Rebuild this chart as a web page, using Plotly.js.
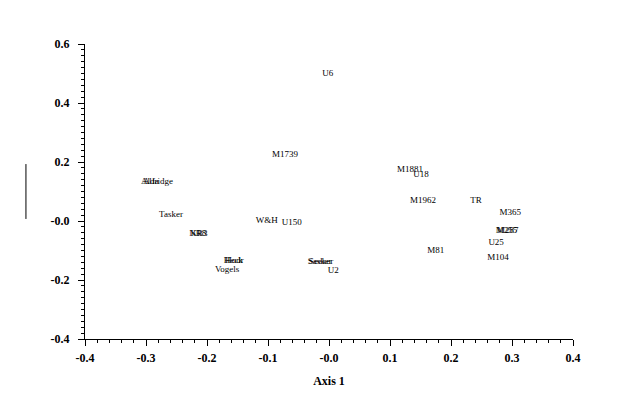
<!DOCTYPE html>
<html>
<head>
<meta charset="utf-8">
<script src="https://cdn.plot.ly/plotly-3.0.1.min.js"></script>
<style>html,body{margin:0;padding:0;background:#fff}#chart{width:624px;height:413px}</style>
</head>
<body>
<div id="chart"></div>
<script>
// Site labels and their ordination scores (Axis 1, Axis 2)
const labels = ["U6","M1739","Aldridge","Alfa","Tasker","NR8","KR3","Heck","Hodr","Vogels","W&H","U150","Sasker","Seeker","U2","M1881","U18","M1962","TR","M365","M255","M287","U25","M81","M104"];
const axis1 = [-0.002,-0.072,-0.282,-0.292,-0.259,-0.215,-0.213,-0.157,-0.155,-0.167,-0.102,-0.061,-0.015,-0.013,0.007,0.133,0.151,0.154,0.241,0.297,0.291,0.293,0.274,0.175,0.277];
const axis2 = [0.498,0.224,0.133,0.133,0.020,-0.044,-0.044,-0.136,-0.136,-0.166,0.000,-0.007,-0.139,-0.139,-0.169,0.173,0.156,0.068,0.068,0.027,-0.034,-0.034,-0.075,-0.102,-0.125];

const xTickVals = [-0.4,-0.3,-0.2,-0.1,0,0.1,0.2,0.3,0.4];
const xTickText = ["-0.4","-0.3","-0.2","-0.1","-0.0","0.1","0.2","0.3","0.4"];
const yTickVals = [-0.4,-0.2,0,0.2,0.4,0.6];
const yTickText = ["-0.4","-0.2","-0.0","0.2","0.4","0.6"];

const serif = "Liberation Serif, Times New Roman, serif";
const tickFont = {family: serif, size: 12, color: "#000", weight: "bold"};

const trace = {
  type: "scatter",
  mode: "text",
  x: axis1,
  y: axis2,
  text: labels,
  textposition: "middle center",
  textfont: {family: serif, size: 9, color: "#000"},
  hoverinfo: "text",
  showlegend: false
};

const layout = {
  width: 624,
  height: 413,
  margin: {l: 85, r: 51, t: 44, b: 74},
  paper_bgcolor: "#fff",
  plot_bgcolor: "#fff",
  showlegend: false,
  xaxis: {
    range: [-0.4, 0.4],
    tickvals: xTickVals,
    ticktext: xTickText,
    ticks: "outside",
    ticklen: 6,
    tickwidth: 1,
    tickcolor: "#000",
    ticklabelstandoff: 2,
    showline: true,
    linecolor: "#000",
    linewidth: 1,
    showgrid: false,
    zeroline: false,
    tickfont: tickFont,
    minor: {dtick: 0.02, tick0: 0, ticks: "outside", ticklen: 3, tickcolor: "#000", showgrid: false},
    title: {text: "Axis 1", font: {family: serif, size: 12, color: "#000", weight: "bold"}, standoff: 12}
  },
  yaxis: {
    range: [-0.4, 0.6],
    tickvals: yTickVals,
    ticktext: yTickText,
    ticks: "outside",
    ticklen: 6,
    tickwidth: 1,
    tickcolor: "#000",
    ticklabelstandoff: 6,
    showline: true,
    linecolor: "#000",
    linewidth: 1,
    showgrid: false,
    zeroline: false,
    tickfont: tickFont,
    minor: {dtick: 0.02, tick0: 0, ticks: "outside", ticklen: 3, tickcolor: "#000", showgrid: false}
  },
  shapes: [{
    type: "line", xref: "paper", yref: "y",
    x0: -0.121, x1: -0.121, y0: 0.193, y1: 0.007,
    line: {color: "#000", width: 1}
  }]
};

Plotly.newPlot("chart", [trace], layout, {displayModeBar: false, staticPlot: true});
</script>
</body>
</html>
